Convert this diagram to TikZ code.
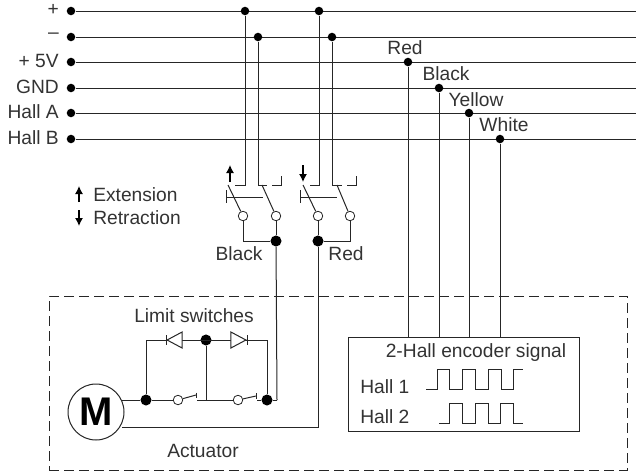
\documentclass[tikz,border=0pt]{standalone}
\usepackage{fontspec}
\setmainfont{Liberation Sans}
\usetikzlibrary{arrows.meta, positioning, shapes}

\begin{document}
\begin{tikzpicture}[
    x=0.75pt, y=-0.75pt,
    wire/.style={draw=black!85, line width=0.75pt},
    dot/.style={circle, fill=black, inner sep=0pt, minimum size=8.5pt/1.33},
    bigdot/.style={circle, fill=black, inner sep=0pt, minimum size=11pt/1.33},
    contact/.style={circle, draw=black!85, fill=white, line width=0.6pt, inner sep=0pt, minimum size=9.5pt/1.33},
    txt/.style={font=\fontsize{14.4}{16}\selectfont, text=black!80, inner sep=0pt},
    dir/.style={-{Latex[length=6pt,width=6pt]}, line width=0.9pt},
    diode/.style={draw=black!85, fill=white, line width=0.75pt, isosceles triangle, isosceles triangle apex angle=56, inner sep=0pt, minimum height=15*0.75pt, anchor=apex}
]
\useasboundingbox (0,0) rectangle (638,472);

% ==== Supply and signal lines ====
\foreach \name/\ypos/\lab in {plus/11/+, minus/37/--, five/62/+ 5V, gnd/88/GND, halla/113/Hall A, hallb/139/Hall B} {
    \node[dot] (\name) at (71,\ypos) {};
    \coordinate (\name end) at (636,\ypos);
    \node[txt, anchor=east] (\name lab) at (59,\ypos-1) {\lab};
    \draw[wire] (\name) -- (\name end);
}

% ==== Junctions on the lines ====
\node[dot] (j1) at (245,11) {};
\node[dot] (j2) at (258,37) {};
\node[dot] (j3) at (319,11) {};
\node[dot] (j4) at (332,37) {};
\node[dot] (sred) at (408,62) {};
\node[dot] (sblack) at (439,88) {};
\node[dot] (syellow) at (469,113) {};
\node[dot] (swhite) at (500,139) {};
\node[txt] (lred) at (405,48) {Red};
\node[txt] (lblack) at (446,74) {Black};
\node[txt] (lyellow) at (476,100) {Yellow};
\node[txt] (lwhite) at (504,125) {White};

% ==== Legend ====
\coordinate (up0) at (79,202);
\coordinate (up1) at (79,186);
\coordinate (dn0) at (79,210);
\coordinate (dn1) at (79,226);
\draw[dir] (up0) -- (up1);
\draw[dir] (dn0) -- (dn1);
\node[txt, anchor=west] (ext) at (93,195) {Extension};
\node[txt, anchor=west] (ret) at (93,218) {Retraction};

% ==== Relay switch, extension ====
\node[contact] (c1) at (243,216) {};
\node[contact] (c2) at (276,216) {};
\node[bigdot] (m1) at (276,241) {};
\coordinate (h1) at (245,185);
\coordinate (h1e) at (235,185);
\coordinate (h2) at (258,185);
\coordinate (h2a) at (267,185);
\coordinate (h2b) at (272,185);
\coordinate (h2c) at (281,185);
\coordinate (h2d) at (281,176);
\coordinate (b1) at (228,185);
\coordinate (b2) at (262,185);
\coordinate (p1) at (226,190);
\coordinate (p2) at (226,203);
\coordinate (p0) at (226,197);
\coordinate (p3) at (263,197);
\coordinate (a1) at (230,182);
\coordinate (a2) at (230,165);
\draw[wire] (j1) -- (h1) -- (h1e);
\draw[wire] (j2) -- (h2) -- (h2a);
\draw[wire] (h2b) -- (h2c) -- (h2d);
\draw[wire] (b1) -- (c1);
\draw[wire] (b2) -- (c2);
\draw[wire] (p1) -- (p2);
\draw[wire] (p0) -- (p3);
\draw[dir] (a1) -- (a2);
\draw[wire] (c1) |- (m1);
\draw[wire] (c2) -- (m1);

% ==== Relay switch, retraction ====
\node[contact] (c3) at (318,216) {};
\node[contact] (c4) at (350,216) {};
\node[bigdot] (m2) at (318,241) {};
\coordinate (h3) at (319,185);
\coordinate (h3e) at (310,185);
\coordinate (h4) at (332,185);
\coordinate (h4a) at (342,185);
\coordinate (h4b) at (347,185);
\coordinate (h4c) at (356,185);
\coordinate (h4d) at (356,176);
\coordinate (b3) at (303,185);
\coordinate (b4) at (337,185);
\coordinate (p4) at (300,190);
\coordinate (p5) at (300,203);
\coordinate (p6) at (300,197);
\coordinate (p7) at (337,197);
\coordinate (a3) at (303,165);
\coordinate (a4) at (303,182);
\draw[wire] (j3) -- (h3) -- (h3e);
\draw[wire] (j4) -- (h4) -- (h4a);
\draw[wire] (h4b) -- (h4c) -- (h4d);
\draw[wire] (b3) -- (c3);
\draw[wire] (b4) -- (c4);
\draw[wire] (p4) -- (p5);
\draw[wire] (p6) -- (p7);
\draw[dir] (a3) -- (a4);
\draw[wire] (c3) -- (m2);
\draw[wire] (c4) |- (m2);

\node[txt] (lblk) at (239,254) {Black};
\node[txt] (lrd) at (346,254) {Red};

% ==== Actuator container ====
\node[draw=black!85, line width=0.75pt, dash pattern=on 7.5pt off 3.75pt, minimum width=578*0.75pt, minimum height=174*0.75pt, inner sep=0pt] (actuator) at (338,383) {};
\node[txt] (lact) at (203,451) {Actuator};
\node[txt] (llim) at (194,316) {Limit switches};

% ==== Motor and limit switches ====
\node[circle, draw=black!85, line width=0.75pt, fill=white, minimum size=56*0.75pt, inner sep=0pt, font=\fontsize{30}{32}\bfseries\selectfont] (motor) at (96,412) {M};
\node[bigdot] (n1) at (146,400) {};
\node[bigdot] (n2) at (267,400) {};
\node[bigdot] (n3) at (206,340) {};
\node[contact] (c5) at (178,400) {};
\node[contact] (c6) at (238,400) {};
\coordinate (tl) at (146,340);
\coordinate (tr) at (267,340);
\coordinate (mot1) at (122,400);
\coordinate (mot2) at (122,427);
\coordinate (s1) at (196,395);
\coordinate (s2) at (197,400);
\coordinate (s3) at (206,400);
\coordinate (s4) at (256,396);
\coordinate (s5) at (257,400);
\coordinate (out1) at (277,400);
\coordinate (out2) at (318,427);
\coordinate (t1a) at (196,392.5);
\coordinate (t1b) at (196,398);
\coordinate (t2a) at (256,393);
\coordinate (t2b) at (256,398.5);
\draw[wire] (mot1) -- (n1) -- (c5);
\draw[wire] (c5) -- (s1);
\draw[wire] (t1a) -- (t1b);
\draw[wire] (s2) -- (s3) -- (c6);
\draw[wire] (c6) -- (s4);
\draw[wire] (t2a) -- (t2b);
\draw[wire] (s5) -- (n2) -- (out1);
\draw[wire] (m1) -- (out1);
\draw[wire] (m2) -- (out2) -- (mot2);
\draw[wire] (n1) -- (tl) -- (tr) -- (n2);
\draw[wire] (n3) -- (s3);
\node[diode, shape border rotate=180] (d1) at (166,340) {};
\node[diode] (d2) at (247,340) {};
\draw[wire] ([yshift=5*0.75pt]d1.apex) -- ([yshift=-5*0.75pt]d1.apex);
\draw[wire] ([yshift=5*0.75pt]d2.apex) -- ([yshift=-5*0.75pt]d2.apex);

% ==== Encoder box ====
\node[draw=black!85, line width=0.75pt, fill=white, minimum width=231*0.75pt, minimum height=94*0.75pt, inner sep=0pt] (encoder) at (463.5,384) {};
\draw[wire] (sred) -- (sred |- encoder.north);
\draw[wire] (sblack) -- (sblack |- encoder.north);
\draw[wire] (syellow) -- (syellow |- encoder.north);
\draw[wire] (swhite) -- (swhite |- encoder.north);
\node[txt] (ltitle) at (476,353) {2-Hall encoder signal};
\node[txt, anchor=west] (lh1) at (360,387) {Hall 1};
\node[txt, anchor=west] (lh2) at (360,417) {Hall 2};
\draw[wire] (426,389) -- (437,389) -- (437,369) -- (449,369) -- (449,389) -- (462,389) -- (462,369) -- (475,369) -- (475,389) -- (488,389) -- (488,369) -- (501,369) -- (501,389) -- (513,389) -- (513,369) -- (523,369);
\draw[wire] (439,423) -- (449,423) -- (449,403) -- (462,403) -- (462,423) -- (475,423) -- (475,403) -- (488,403) -- (488,423) -- (500,423) -- (500,403) -- (513,403) -- (513,423) -- (523,423);

\end{tikzpicture}
\end{document}
